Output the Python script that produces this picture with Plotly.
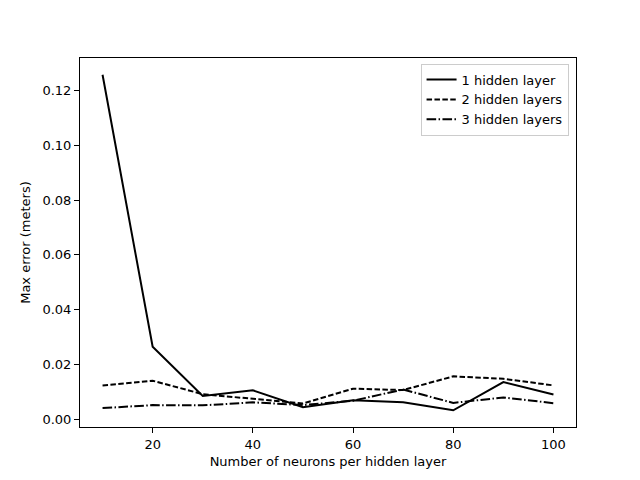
import plotly.graph_objects as go

neurons = [10, 20, 30, 40, 50, 60, 70, 80, 90, 100]
err_1 = [0.1258, 0.0264, 0.0084, 0.0105, 0.0043, 0.0069, 0.0061, 0.0032, 0.0135, 0.0090]
err_2 = [0.0123, 0.0140, 0.0091, 0.0073, 0.0057, 0.0111, 0.0106, 0.0156, 0.0147, 0.0123]
err_3 = [0.0040, 0.0051, 0.0050, 0.0061, 0.0051, 0.0067, 0.0108, 0.0059, 0.0079, 0.0058]

series = [
    ('1 hidden layer', err_1, 'solid'),
    ('2 hidden layers', err_2, '5.5px,2.4px'),
    ('3 hidden layers', err_3, '9.6px,2.4px,1.5px,2.4px'),
]

fig = go.Figure()
for name, vals, dash in series:
    fig.add_trace(go.Scatter(
        x=neurons, y=vals, mode='lines', name=name,
        line=dict(color='black', width=2, dash=dash)
    ))

axis_style = dict(
    showline=True, linecolor='black', linewidth=1, mirror=True,
    ticks='outside', ticklen=5, tickwidth=1, tickcolor='black',
    showgrid=False, zeroline=False,
    tickfont=dict(size=13, color='black'),
)

fig.update_xaxes(range=[5.5, 104.5], tickvals=[20, 40, 60, 80, 100],
                 title=dict(text='Number of neurons per hidden layer', font=dict(size=13), standoff=6),
                 **axis_style)
fig.update_yaxes(range=[-0.0029, 0.1319], tickvals=[0, 0.02, 0.04, 0.06, 0.08, 0.10, 0.12],
                 tickformat='.2f',
                 title=dict(text='Max error (meters)', font=dict(size=13), standoff=8),
                 **axis_style)

# page body adds an 8px offset, so margins are shifted to compensate
fig.update_layout(
    width=640, height=480,
    margin=dict(l=72, r=72, t=50, b=61),
    plot_bgcolor='white', paper_bgcolor='white',
    font=dict(family='DejaVu Sans', color='black', size=13),
    legend=dict(x=0.985, y=0.985, xanchor='right', yanchor='top',
                bordercolor='#cccccc', borderwidth=1, bgcolor='white',
                font=dict(size=13), tracegroupgap=0),
)

fig.write_html("out.html")
